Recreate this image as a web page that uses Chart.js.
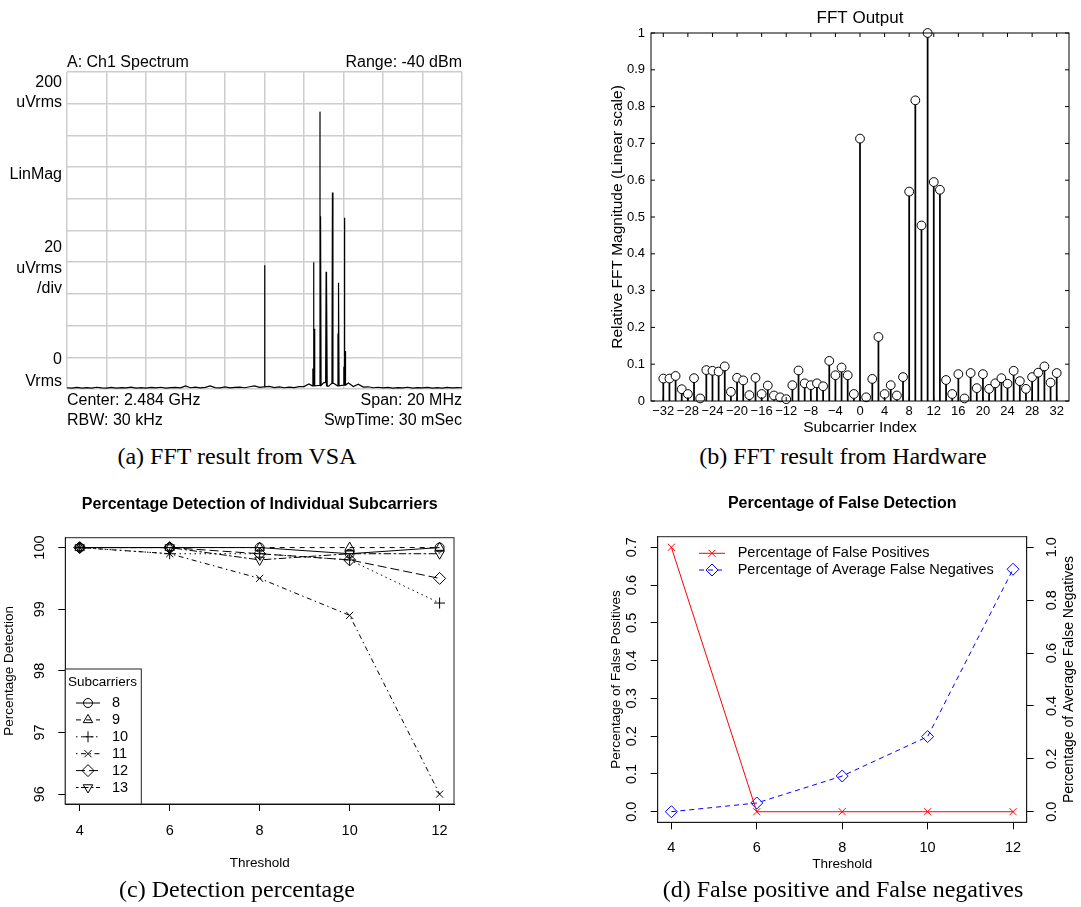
<!DOCTYPE html>
<html>
<head>
<meta charset="utf-8">
<script src="https://cdn.jsdelivr.net/npm/chart.js@4.4.1/dist/chart.umd.min.js"></script>
<style>
  html, body { margin: 0; padding: 0; background: #fff; overflow: hidden; }
  body { width: 1081px; height: 907px; position: relative; }
  canvas { position: absolute; }
  .cap { position: absolute; width: 540px; text-align: center; line-height: 28px;
         font-family: "Liberation Serif", "DejaVu Serif", serif; font-size: 24px; color: #000; }
</style>
</head>
<body>
<canvas id="vsa" style="left:0;top:0;width:540px;height:440px" width="540" height="440"></canvas>
<canvas id="fft" style="left:560px;top:0;width:521px;height:440px" width="521" height="440"></canvas>
<canvas id="det" style="left:0;top:480px;width:540px;height:400px" width="540" height="400"></canvas>
<canvas id="fls" style="left:560px;top:480px;width:521px;height:400px" width="521" height="400"></canvas>
<div class="cap" style="left:-33px;top:442px">(a) FFT result from VSA</div>
<div class="cap" style="left:573px;top:442px">(b) FFT result from Hardware</div>
<div class="cap" style="left:-33px;top:875px">(c) Detection percentage</div>
<div class="cap" style="left:573px;top:875px">(d) False positive and False negatives</div>
<script>
// ---- (a) VSA spectrum: offset from 2.484 GHz in MHz, level in uVrms
const vsaFreqStart = -10;
const vsaFreqStep = 0.25;
const vsaNoise = [
  0.8, 0.5, 1.0, 0.6, 0.9, 0.5, 1.1, 0.7, 0.6, 1.0,
  0.5, 0.9, 0.7, 1.2, 0.6, 0.9, 0.5, 1.0, 0.7, 1.1,
  0.6, 0.9, 1.0, 0.7, 2.0, 0.8, 1.2, 0.7, 1.0, 1.9,
  0.9, 0.7, 1.3, 0.7, 1.0, 1.2, 0.8, 1.4, 1.9, 1.0,
  1.4, 1.6, 0.9, 1.3, 0.8, 1.2, 0.9, 1.5, 1.5, 3.2,
  2.0, 2.2, 4.0, 1.8, 3.6, 2.0, 2.5, 3.8, 1.6, 3.0,
  1.2, 1.4, 0.8, 1.1, 0.7, 1.0, 0.6, 0.9, 0.7, 1.1,
  0.6, 0.9, 0.7, 1.0, 0.6, 0.9, 0.5, 1.0, 0.7, 0.9, 0.8
];
const vsaSpikeFreq = [0.00, 2.45, 2.50, 2.53, 2.81, 2.84, 3.12, 3.15, 3.44, 3.72, 3.75, 4.02, 4.06, 4.09];
const vsaSpikeLevel = [78, 13, 80, 38, 175, 109, 74, 70, 124, 35, 67, 14, 108, 24];
const vsaXTicks = [-10, -8, -6, -4, -2, 0, 2, 4, 6, 8, 10];
const vsaYTicks = [0, 20, 40, 60, 80, 100, 120, 140, 160, 180, 200];

// ---- (b) hardware FFT output
const subcarriers = Array.from({ length: 65 }, (_, i) => i - 32);
const fftMagnitude = [
  0.061, 0.061, 0.068, 0.032, 0.019, 0.062, 0.007, 0.084, 0.082, 0.080,
  0.094, 0.025, 0.063, 0.056, 0.016, 0.063, 0.019, 0.042, 0.015, 0.010,
  0.005, 0.043, 0.083, 0.048, 0.043, 0.048, 0.040, 0.109, 0.070, 0.091,
  0.070, 0.019, 0.713, 0.010, 0.060, 0.174, 0.019, 0.043, 0.015, 0.065,
  0.569, 0.817, 0.477, 1.000, 0.595, 0.574, 0.057, 0.019, 0.073, 0.007,
  0.076, 0.035, 0.073, 0.033, 0.048, 0.062, 0.047, 0.082, 0.054, 0.033,
  0.065, 0.077, 0.094, 0.050, 0.076
];
const fftXTicks = [-32, -28, -24, -20, -16, -12, -8, -4, 0, 4, 8, 12, 16, 20, 24, 28, 32];
const fftXLabels = ['\u221232', '\u221228', '\u221224', '\u221220', '\u221216', '\u221212', '\u22128', '\u22124',
  '0', '4', '8', '12', '16', '20', '24', '28', '32'];
const fftYTicks = [0, 0.1, 0.2, 0.3, 0.4, 0.5, 0.6, 0.7, 0.8, 0.9, 1];
const fftYLabels = ['0', '0.1', '0.2', '0.3', '0.4', '0.5', '0.6', '0.7', '0.8', '0.9', '1'];

// ---- (c) detection percentage per subcarrier
const thresholds = [4, 6, 8, 10, 12];
const subcarrierNames = ['8', '9', '10', '11', '12', '13'];
const det8 = [100, 100, 100, 99.9, 100];
const det9 = [100, 100, 100, 100, 100];
const det10 = [100, 99.9, 99.9, 99.8, 99.1];
const det11 = [100, 99.9, 99.5, 98.9, 96.0];
const det12 = [100, 100, 99.9, 99.8, 99.5];
const det13 = [100, 100, 99.8, 99.9, 99.9];
const detYTicks = [96, 97, 98, 99, 100];

// ---- (d) false detection
const falsePositives = [0.7, 0, 0, 0, 0];
const falseNegatives = [0.0, 0.033, 0.135, 0.284, 0.917];
const fpTicks = [0, 0.1, 0.2, 0.3, 0.4, 0.5, 0.6, 0.7];
const fpLabels = ['0.0', '0.1', '0.2', '0.3', '0.4', '0.5', '0.6', '0.7'];
const fnTicks = [0, 0.2, 0.4, 0.6, 0.8, 1.0];
const fnLabels = ['0.0', '0.2', '0.4', '0.6', '0.8', '1.0'];

const SANS = '"Liberation Sans", Arial, Helvetica, sans-serif';
Chart.defaults.font.family = SANS;
Chart.defaults.color = '#000';
Chart.defaults.animation = false;
Chart.defaults.plugins.legend.display = false;
Chart.defaults.plugins.tooltip.enabled = false;

const useTicks = (list) => (scale) => { scale.ticks = list.map((v) => ({ value: v })); };

// free text (titles, VSA annotations) in canvas coordinates
const textPlugin = {
  id: 'panelText',
  afterDraw(chart, args, opts) {
    const ctx = chart.ctx;
    (opts.items || []).forEach((it) => {
      ctx.save();
      ctx.font = it.font;
      ctx.fillStyle = '#000';
      ctx.textAlign = it.align || 'center';
      ctx.textBaseline = 'middle';
      ctx.translate(it.x, it.y);
      if (it.rot) ctx.rotate(it.rot);
      ctx.fillText(it.text, 0, 0);
      ctx.restore();
    });
  }
};

// box around the plot area, optional inward ticks (matlab style)
const framePlugin = {
  id: 'frame',
  afterDatasetsDraw(chart, args, o) {
    const { ctx, chartArea: a, scales } = chart;
    ctx.save();
    ctx.strokeStyle = o.color || '#000';
    ctx.lineWidth = 1;
    ctx.strokeRect(a.left, a.top, a.right - a.left, a.bottom - a.top);
    if (o.inTick) {
      ctx.beginPath();
      scales.x.ticks.forEach((t) => {
        const px = scales.x.getPixelForValue(t.value);
        ctx.moveTo(px, a.bottom); ctx.lineTo(px, a.bottom - o.inTick);
        ctx.moveTo(px, a.top); ctx.lineTo(px, a.top + o.inTick);
      });
      scales.y.ticks.forEach((t) => {
        const py = scales.y.getPixelForValue(t.value);
        ctx.moveTo(a.left, py); ctx.lineTo(a.left + o.inTick, py);
        ctx.moveTo(a.right, py); ctx.lineTo(a.right - o.inTick, py);
      });
      ctx.stroke();
    }
    ctx.restore();
  }
};

// R-like legend drawn inside the plot area
const legendPlugin = {
  id: 'rLegend',
  afterDraw(chart, args, o) {
    const { ctx, chartArea: a } = chart;
    ctx.save();
    if (o.boxW) {
      const h = a.bottom - a.top - o.boxY;
      ctx.fillStyle = '#fff';
      ctx.fillRect(a.left, a.top + o.boxY, o.boxW, h);
      ctx.strokeStyle = '#222';
      ctx.lineWidth = 1;
      ctx.strokeRect(a.left, a.top + o.boxY, o.boxW, h);
    }
    ctx.textBaseline = 'middle';
    ctx.textAlign = 'left';
    ctx.fillStyle = '#000';
    if (o.title) {
      ctx.font = o.titleFont;
      ctx.fillText(o.title, a.left + o.titleX, a.top + o.titleY);
    }
    chart.data.datasets.forEach((ds, i) => {
      const y = a.top + o.rowY + i * o.rowH;
      ctx.strokeStyle = ds.borderColor;
      ctx.lineWidth = ds.borderWidth;
      ctx.setLineDash(ds.borderDash || []);
      ctx.beginPath();
      ctx.moveTo(a.left + o.lineX0, y);
      ctx.lineTo(a.left + o.lineX1, y);
      ctx.stroke();
      ctx.setLineDash([]);
      ctx.lineWidth = 1;
      ctx.fillStyle = 'rgba(0,0,0,0)';
      Chart.helpers.drawPoint(ctx, {
        pointStyle: ds.pointStyle, rotation: ds.pointRotation || 0,
        radius: ds.pointRadius, borderWidth: 1
      }, a.left + o.markX, y);
      ctx.fillStyle = '#000';
      ctx.font = o.font;
      ctx.fillText(ds.label, a.left + o.textX, y);
    });
    ctx.restore();
  }
};

// ---------- (a) VSA ----------
const vsaTrace = [];
vsaNoise.forEach((v, i) => {
  const f = vsaFreqStart + i * vsaFreqStep;
  if (!vsaSpikeFreq.some((s) => Math.abs(s - f) < 0.04)) vsaTrace.push({ x: f, y: v });
});
vsaSpikeFreq.forEach((f, i) => {
  const floor = vsaNoise[Math.round((f - vsaFreqStart) / vsaFreqStep)];
  vsaTrace.push({ x: f - 0.025, y: floor }, { x: f, y: vsaSpikeLevel[i] }, { x: f + 0.025, y: floor });
});
vsaTrace.sort((p, q) => p.x - q.x);

const F16 = '16px ' + SANS;
new Chart(document.getElementById('vsa'), {
  type: 'line',
  data: {
    datasets: [{
      data: vsaTrace, borderColor: '#000', borderWidth: 1.2, pointRadius: 0, tension: 0
    }]
  },
  options: {
    responsive: false,
    layout: { padding: { left: 67, top: 72, right: 78, bottom: 51 } },
    scales: {
      x: {
        type: 'linear', min: -10, max: 10, afterBuildTicks: useTicks(vsaXTicks),
        ticks: { display: false }, grid: { color: '#cdcdcd', lineWidth: 1.5, drawTicks: false },
        border: { display: false }, afterFit(s) { s.height = 0; }
      },
      y: {
        min: 0, max: 200, afterBuildTicks: useTicks(vsaYTicks),
        ticks: { display: false }, grid: { color: '#cdcdcd', lineWidth: 1.5, drawTicks: false },
        border: { display: false }, afterFit(s) { s.width = 0; }
      }
    },
    plugins: {
      panelText: {
        items: [
          { text: 'A: Ch1 Spectrum', x: 67, y: 63, align: 'left', font: F16 },
          { text: 'Range: -40 dBm', x: 462, y: 63, align: 'right', font: F16 },
          { text: 'Center: 2.484 GHz', x: 67, y: 401, align: 'left', font: F16 },
          { text: 'Span: 20 MHz', x: 462, y: 401, align: 'right', font: F16 },
          { text: 'RBW: 30 kHz', x: 67, y: 421, align: 'left', font: F16 },
          { text: 'SwpTime: 30 mSec', x: 462, y: 421, align: 'right', font: F16 },
          { text: '200', x: 62, y: 83, align: 'right', font: F16 },
          { text: 'uVrms', x: 62, y: 103, align: 'right', font: F16 },
          { text: 'LinMag', x: 62, y: 175, align: 'right', font: F16 },
          { text: '20', x: 62, y: 248, align: 'right', font: F16 },
          { text: 'uVrms', x: 62, y: 269, align: 'right', font: F16 },
          { text: '/div', x: 62, y: 289, align: 'right', font: F16 },
          { text: '0', x: 62, y: 360, align: 'right', font: F16 },
          { text: 'Vrms', x: 62, y: 382, align: 'right', font: F16 }
        ]
      }
    }
  },
  plugins: [textPlugin]
});

// ---------- (b) FFT output stem plot ----------
new Chart(document.getElementById('fft'), {
  type: 'scatter',
  data: {
    datasets: [{
      data: subcarriers.map((s, i) => ({ x: s, y: fftMagnitude[i] })),
      pointStyle: 'circle', pointRadius: 4.4, pointBorderWidth: 1,
      pointBorderColor: '#000', pointBackgroundColor: '#fff', showLine: false, clip: false
    }, {
      type: 'bar',
      data: subcarriers.map((s, i) => ({ x: s, y: fftMagnitude[i] })),
      backgroundColor: '#000', barThickness: 1.1
    }]
  },
  options: {
    responsive: false,
    layout: { padding: { left: 0, right: 12, top: 33, bottom: 0 } },
    scales: {
      x: {
        type: 'linear', min: -32, max: 32, afterBuildTicks: useTicks(fftXTicks),
        ticks: { padding: 3, font: { size: 13 }, autoSkip: false, minRotation: 0, maxRotation: 0,
                 callback: (v, i) => fftXLabels[i] },
        grid: { display: false, drawTicks: false, tickLength: 0 }, border: { display: false },
        title: { display: true, text: 'Subcarrier Index', font: { size: 15.5 }, padding: { top: 0, bottom: 2.7 } },
        afterFit(s) { s.height = 39; }
      },
      y: {
        min: 0, max: 1, afterBuildTicks: useTicks(fftYTicks),
        ticks: { padding: 6, font: { size: 13 }, callback: (v, i) => fftYLabels[i] },
        grid: { display: false, drawTicks: false, tickLength: 0 }, border: { display: false },
        title: { display: true, text: 'Relative FFT Magnitude (Linear scale)', font: { size: 15.5 },
                 padding: { top: 48.7, bottom: 0 } },
        afterFit(s) { s.width = 91; }
      }
    },
    plugins: {
      frame: { color: '#000', inTick: 4 },
      panelText: { items: [{ text: 'FFT Output', x: 300, y: 18, font: '17px ' + SANS }] }
    }
  },
  plugins: [framePlugin, textPlugin]
});

// ---------- (c) detection percentage ----------
const detSeries = [det8, det9, det10, det11, det12, det13];
const detDash = [[], [5, 5], [1.5, 3.5], [1.5, 3.5, 5, 3.5], [9, 4], [2.5, 2.5, 7.5, 2.5]];
const detMarker = ['circle', 'triangle', 'cross', 'crossRot', 'rectRot', 'triangle'];
const detMarkerSize = [4.5, 5.5, 5.5, 5, 6, 5.5];
const detMarkerRot = [0, 0, 0, 0, 0, 180];

const axisFont = { size: 14.5 };
const titleFont = { size: 13.5 };
const rTicks = { drawOnChartArea: false, tickLength: 7, color: '#000', lineWidth: 1 };

new Chart(document.getElementById('det'), {
  type: 'line',
  data: {
    datasets: detSeries.map((vals, k) => ({
      label: subcarrierNames[k],
      data: thresholds.map((t, i) => ({ x: t, y: vals[i] })),
      borderColor: '#000', borderWidth: 1, borderDash: detDash[k], tension: 0,
      pointStyle: detMarker[k], pointRadius: detMarkerSize[k], pointRotation: detMarkerRot[k],
      pointBorderColor: '#000', pointBorderWidth: 1, pointBackgroundColor: 'rgba(0,0,0,0)', clip: false
    }))
  },
  options: {
    responsive: false,
    layout: { padding: { left: 0, right: 86, top: 57.7, bottom: 0 } },
    scales: {
      x: {
        type: 'linear', min: 3.68, max: 12.32, afterBuildTicks: useTicks(thresholds),
        ticks: { padding: 11, font: axisFont, maxRotation: 0 },
        grid: rTicks, border: { color: '#000' },
        title: { display: true, text: 'Threshold', font: titleFont, padding: { top: 0, bottom: 8.9 } },
        afterFit(s) { s.height = 76; }
      },
      y: {
        min: 95.84, max: 100.16, afterBuildTicks: useTicks(detYTicks),
        ticks: { padding: 6.2, font: axisFont, crossAlign: 'center', minRotation: 90, maxRotation: 90 },
        grid: rTicks, border: { color: '#000' },
        title: { display: true, text: 'Percentage Detection', font: titleFont, padding: { top: 1, bottom: 0 } },
        afterFit(s) { s.width = 65.3; }
      }
    },
    plugins: {
      frame: { color: '#222' },
      rLegend: {
        boxW: 76, boxY: 131.3, title: 'Subcarriers', titleX: 2.7, titleY: 144.3,
        titleFont: '13.5px ' + SANS, font: '14.5px ' + SANS,
        rowY: 165.3, rowH: 16.9, lineX0: 10.7, lineX1: 34.7, markX: 22.7, textX: 46.7
      },
      panelText: {
        items: [{ text: 'Percentage Detection of Individual Subcarriers', x: 259.7, y: 25, font: 'bold 16px ' + SANS }]
      }
    }
  },
  plugins: [framePlugin, legendPlugin, textPlugin]
});

// ---------- (d) false detection ----------
new Chart(document.getElementById('fls'), {
  type: 'line',
  data: {
    datasets: [{
      label: 'Percentage of False Positives',
      data: thresholds.map((t, i) => ({ x: t, y: falsePositives[i] })),
      yAxisID: 'y', borderColor: '#ff0000', borderWidth: 1, tension: 0,
      pointStyle: 'crossRot', pointRadius: 5, pointBorderColor: '#ff0000', pointBorderWidth: 1, clip: false
    }, {
      label: 'Percentage of Average False Negatives',
      data: thresholds.map((t, i) => ({ x: t, y: falseNegatives[i] })),
      yAxisID: 'y2', borderColor: '#0000ff', borderWidth: 1, borderDash: [5, 4], tension: 0,
      pointStyle: 'rectRot', pointRadius: 6, pointBorderColor: '#0000ff', pointBorderWidth: 1,
      pointBackgroundColor: 'rgba(0,0,0,0)', clip: false
    }]
  },
  options: {
    responsive: false,
    layout: { padding: { left: 0, right: 0, top: 56.7, bottom: 0 } },
    scales: {
      x: {
        type: 'linear', min: 3.68, max: 12.32, afterBuildTicks: useTicks(thresholds),
        ticks: { padding: 9.7, font: axisFont, maxRotation: 0 },
        grid: rTicks, border: { color: '#000' },
        title: { display: true, text: 'Threshold', font: titleFont, padding: { top: 0, bottom: 7.9 } },
        afterFit(s) { s.height = 57.7; }
      },
      y: {
        position: 'left', min: -0.028, max: 0.728, afterBuildTicks: useTicks(fpTicks),
        ticks: { padding: 8.9, font: axisFont, crossAlign: 'center', minRotation: 90, maxRotation: 90,
                 callback: (v, i) => fpLabels[i] },
        grid: rTicks, border: { color: '#000' },
        title: { display: true, text: 'Percentage of False Positives', font: titleFont, padding: { top: 48.6, bottom: 0 } },
        afterFit(s) { s.width = 97.7; }
      },
      y2: {
        position: 'right', min: -0.04, max: 1.04, afterBuildTicks: useTicks(fnTicks),
        ticks: { padding: 7.9, font: axisFont, crossAlign: 'center', minRotation: 90, maxRotation: 90,
                 callback: (v, i) => fnLabels[i] },
        grid: rTicks, border: { color: '#000' },
        afterFit(s) { s.width = 54.3; }
      }
    },
    plugins: {
      frame: { color: '#222' },
      rLegend: {
        font: '14.5px ' + SANS, rowY: 16.6, rowH: 16.7, lineX0: 41.3, lineX1: 67.3, markX: 54.3, textX: 80
      },
      panelText: {
        items: [
          { text: 'Percentage of False Detection', x: 282.2, y: 24, font: 'bold 16px ' + SANS },
          { text: 'Percentage of Average False Negatives', x: 509, y: 199.5, rot: -Math.PI / 2, font: '14px ' + SANS }
        ]
      }
    }
  },
  plugins: [framePlugin, legendPlugin, textPlugin]
});
</script>
</body>
</html>
